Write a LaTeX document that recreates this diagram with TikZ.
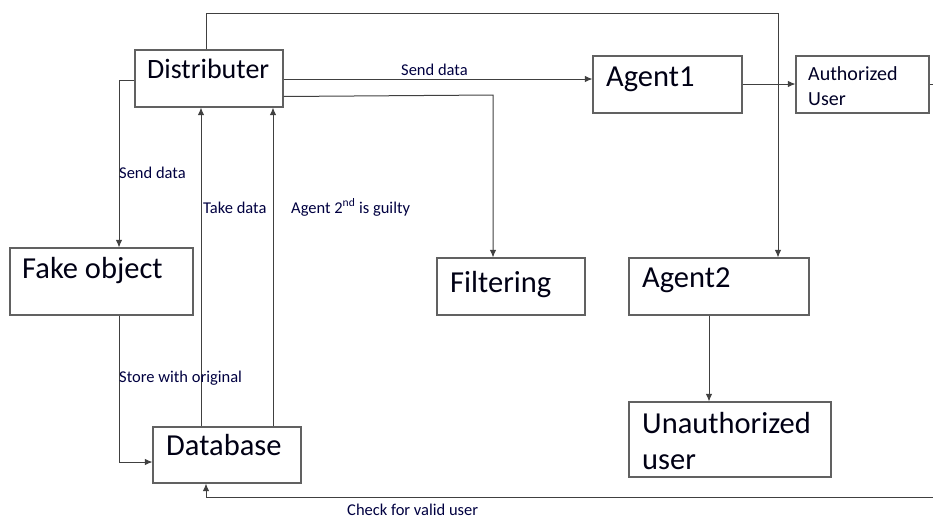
\documentclass[tikz,border=0pt]{standalone}
\usepackage{fontspec}
\setmainfont{Carlito}
\usetikzlibrary{arrows.meta}
\begin{document}
\begin{tikzpicture}[x=1pt,y=-1pt,
  box/.style={draw=black!62,line width=1.1pt,rectangle,inner sep=0pt},
  big/.style={anchor=base west,inner sep=0pt,text=black!92!blue,font=\fontsize{30.5}{36}\selectfont},
  mid/.style={anchor=base west,inner sep=0pt,text=black!85!blue,font=\fontsize{20}{24}\selectfont},
  lbl/.style={anchor=base west,inner sep=0pt,text=black!75!blue,font=\fontsize{16.5}{20}\selectfont},
  conn/.style={draw=black!75,line width=1pt},
  arr/.style={conn,-{Latex[length=7.5pt,width=6.5pt]}}]
\useasboundingbox (0,0) rectangle (933,520);
% boxes
\node[box,minimum width=148pt,minimum height=57pt] (dist) at (209,78.5) {};
\node[box,minimum width=149pt,minimum height=57pt] (ag1) at (667.5,84.5) {};
\node[box,minimum width=133pt,minimum height=57pt] (auth) at (862.5,84.5) {};
\node[box,minimum width=183pt,minimum height=67pt] (fake) at (101.5,281.5) {};
\node[box,minimum width=148pt,minimum height=57pt] (filt) at (511,286.5) {};
\node[box,minimum width=180pt,minimum height=57pt] (ag2) at (719,286.5) {};
\node[box,minimum width=202pt,minimum height=75pt] (unauth) at (730,439.5) {};
\node[box,minimum width=148pt,minimum height=56pt] (db) at (227,455) {};
% box texts
\node[big,font=\fontsize{28}{32}\selectfont] (tdist) at (147,78) {Distributer};
\node[big] (tag1) at (606,86) {Agent1};
\node[mid] (tauth1) at (808,80) {Authorized};
\node[mid] (tauth2) at (808,105.5) {User};
\node[big] (tfake) at (22,278) {Fake object};
\node[big] (tfilt) at (450,292) {Filtering};
\node[big] (tag2) at (642,287) {Agent2};
\node[big] (tun1) at (642,433) {Unauthorized};
\node[big] (tun2) at (642,469) {user};
\node[big] (tdb) at (166,455) {Database};
% coordinates
\coordinate (c1) at (206,13);
\coordinate (c2) at (778,13);
\coordinate (c3) at (493,95);
\coordinate (c4) at (119,80);
\coordinate (c5) at (119,462);
\coordinate (c6) at (933,497);
\coordinate (c7) at (206,497);
\coordinate (c8) at (933,84);
% connectors
\draw[arr] (dist.north -| c1) -- (c1) -- (c2) -- (ag2.north -| c2);
\draw[arr] (dist.east |- 0,79) -- (ag1.west |- 0,79);
\draw[arr] (dist.east |- 0,96.5) -- (c3) -- (filt.north -| c3);
\draw[arr] (dist.west |- c4) -- (c4) -- (fake.north -| c4);
\draw[arr] (db.north -| 201,0) -- (dist.south -| 201,0);
\draw[arr] (db.north -| 273,0) -- (dist.south -| 273,0);
\draw[arr] (fake.south -| c5) -- (c5) -- (db.west |- c5);
\draw[arr] (ag1.east |- 0,84) -- (auth.west |- 0,84);
\draw[conn] (auth.east |- c8) -- (c8);
\draw[arr] (ag2.south -| 709,0) -- (unauth.north -| 709,0);
\draw[arr] (c6) -- (c7) -- (db.south -| c7);
% labels
\node[lbl] (l1) at (401,75) {Send data};
\node[lbl] (l2) at (119,178) {Send data};
\node[lbl] (l3) at (203,213) {Take data};
\node[lbl] (l4) at (291,213) {Agent 2\textsuperscript{nd} is guilty};
\node[lbl] (l5) at (119,382) {Store with original};
\node[lbl] (l6) at (347,515.5) {Check for valid user};
\end{tikzpicture}
\end{document}
